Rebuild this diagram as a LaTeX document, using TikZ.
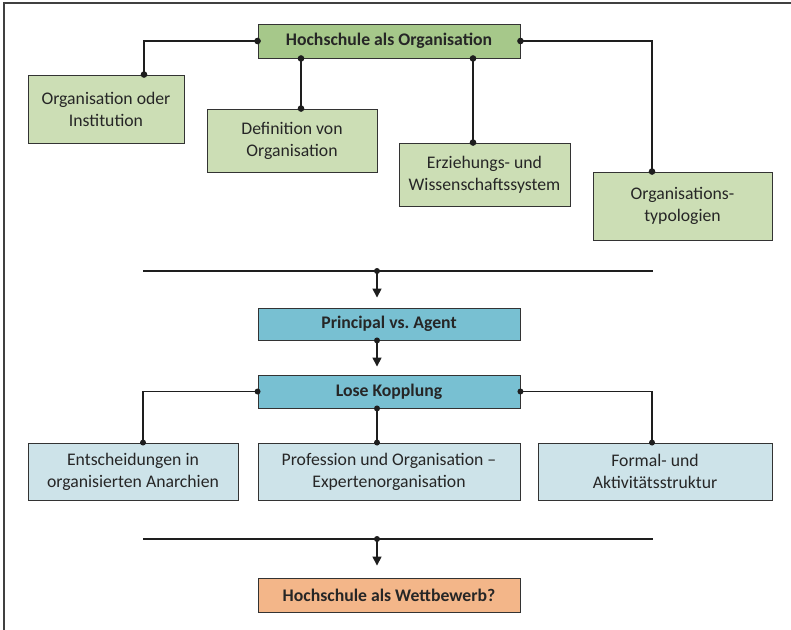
\documentclass[tikz,border=0pt]{standalone}
\usepackage{fontspec}
\setmainfont{Carlito}
\usetikzlibrary{arrows.meta}
\frenchspacing
\definecolor{topgreen}{RGB}{166,200,138}
\definecolor{lightgreen}{RGB}{204,222,181}
\definecolor{teal}{RGB}{120,192,210}
\definecolor{lightblue}{RGB}{205,227,233}
\definecolor{orange}{RGB}{243,182,137}
\definecolor{linec}{RGB}{30,30,30}
\tikzset{
  box/.style={draw=black!80, line width=0.9pt, inner sep=0pt, align=center, font=\fontsize{17.7}{22}\selectfont, text=black!85},
  bbox/.style={box, font=\fontsize{17.7}{22}\selectfont\bfseries},
  conn/.style={draw=linec, line width=1.9pt},
  thin/.style={draw=linec, line width=1.5pt},
  arr/.style={thin, -{Triangle[length=9pt,width=9pt]}},
  dot/.style={fill=linec}
}
\begin{document}
\begin{tikzpicture}[x=1pt,y=-1pt]
\useasboundingbox (0,0) rectangle (791,629);
\fill[white] (0,0) rectangle (791,629);
\draw[black!75, line width=1.4pt] (4,640) -- (4,3) -- (800,3);

% top level
\node[bbox, fill=topgreen, minimum width=262, minimum height=34] (hso) at (389,41) {Hochschule als Organisation};
\node[box, fill=lightgreen, minimum width=156, minimum height=68] (oi) at (106,109) {Organisation oder\\Institution};
\node[box, fill=lightgreen, minimum width=170, minimum height=63] (dv) at (292,140.5) {Definition von\\Organisation};
\node[box, fill=lightgreen, minimum width=171, minimum height=63] (ew) at (484.5,174.5) {Erziehungs- und\\Wissenschaftssystem};
\node[box, fill=lightgreen, minimum width=179, minimum height=68] (ot) at (682.5,206) {Organisations-\\typologien};

\coordinate (oiT) at (oi.north -| 144,0);
\coordinate (dvT) at (dv.north -| 301,0);
\coordinate (ewT) at (ew.north -| 473,0);
\coordinate (otT) at (ot.north -| 652,0);
\coordinate (hsoD) at (hso.south -| 301,0);
\coordinate (hsoE) at (hso.south -| 473,0);

\draw[conn] (hso.west) -| (oiT);
\draw[conn] (hsoD) -- (dvT);
\draw[conn] (hsoE) -- (ewT);
\draw[conn] (hso.east) -| (otT);
\foreach \p in {hso.west, oiT, hsoD, dvT, hsoE, ewT, hso.east, otT}
  \fill[dot] (\p) circle (3.3);

% separator 1
\coordinate (s1a) at (143,271);
\coordinate (s1b) at (653,271);
\coordinate (s1) at (377,271);
\draw[thin] (s1a) -- (s1b);

\node[bbox, fill=teal, minimum width=262, minimum height=32] (pa) at (389,324) {Principal vs. Agent};
\node[bbox, fill=teal, minimum width=262, minimum height=33] (lk) at (389,391.5) {Lose Kopplung};

\draw[arr, shorten >=10pt] (s1) -- (s1 |- pa.north);
\fill[dot] (s1) circle (3);
\draw[arr, shorten >=8pt] (pa.south -| s1) -- (s1 |- lk.north);
\fill[dot] (pa.south -| s1) circle (3);

\node[box, fill=lightblue, minimum width=210, minimum height=57] (ea) at (133,471.5) {Entscheidungen in\\organisierten Anarchien};
\node[box, fill=lightblue, minimum width=262, minimum height=57] (pe) at (389,471.5) {Profession und Organisation --\\Expertenorganisation};
\node[box, fill=lightblue, minimum width=234, minimum height=57] (fa) at (655,471.5) {Formal- und\\Aktivitätsstruktur};

\coordinate (ea1) at (ea.north -| 143,0);
\coordinate (fa1) at (fa.north -| 652,0);
\draw[thin] (lk.west) -| (ea1);
\draw[thin] (lk.south -| s1) -- (pe.north -| s1);
\draw[thin] (lk.east) -| (fa1);
\foreach \p in {lk.west, ea1, lk.east, fa1}
  \fill[dot] (\p) circle (3);
\fill[dot] (lk.south -| s1) circle (3);
\fill[dot] (pe.north -| s1) circle (3);

% separator 2
\coordinate (s2a) at (143,539);
\coordinate (s2b) at (653,539);
\coordinate (s2) at (377,539);
\draw[thin] (s2a) -- (s2b);

\node[bbox, fill=orange, minimum width=262, minimum height=34] (hw) at (389,595) {Hochschule als Wettbewerb?};
\draw[arr, shorten >=12pt] (s2) -- (s2 |- hw.north);
\fill[dot] (s2) circle (3);
\end{tikzpicture}
\end{document}
